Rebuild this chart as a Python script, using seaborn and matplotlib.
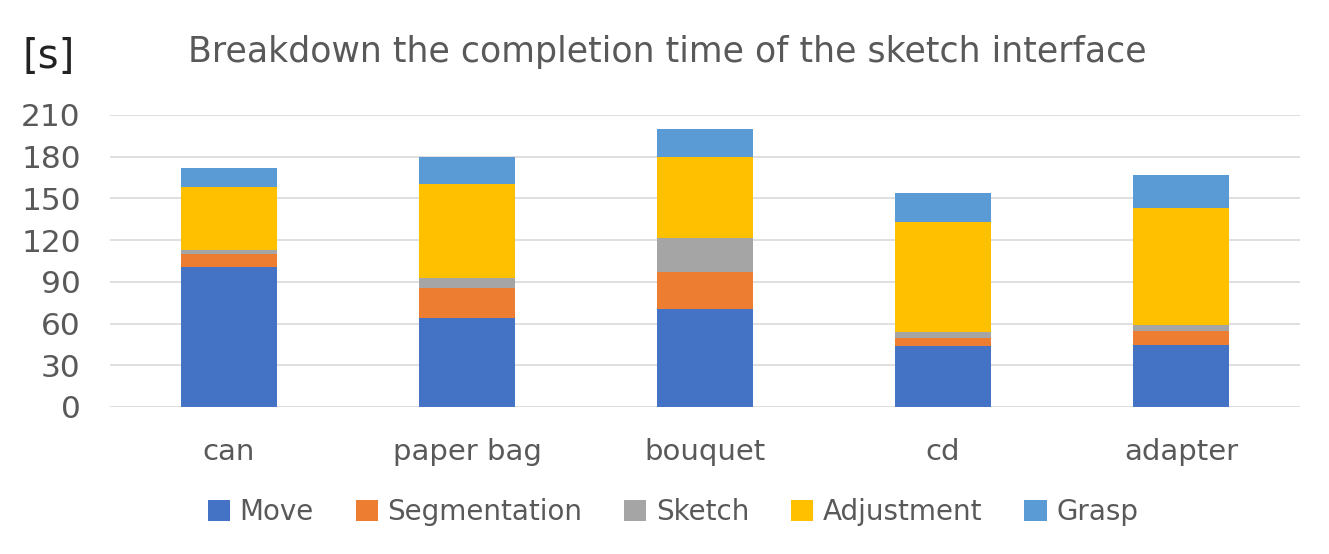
import matplotlib
matplotlib.use("Agg")
import matplotlib.pyplot as plt
import seaborn as sns
import pandas as pd
import numpy as np
from matplotlib.patches import Patch

categories = ["can", "paper bag", "bouquet", "cd", "adapter"]
series_names = ["Move", "Segmentation", "Sketch", "Adjustment", "Grasp"]
move = [101.0, 63.8, 70.8, 43.9, 44.9]
segmentation = [9.0, 22.1, 26.3, 6.0, 9.5]
sketch = [3.2, 7.1, 24.4, 3.8, 4.4]
adjustment = [45.0, 67.2, 58.1, 79.1, 84.1]
grasp = [13.7, 19.6, 20.1, 21.4, 24.2]
y_ticks = [0, 30, 60, 90, 120, 150, 180, 210]

colors = ["#4472C4", "#ED7D31", "#A5A5A5", "#FFC000", "#5B9BD5"]
text_color = "#595959"

sns.set_theme(style="white")
plt.rcParams["font.family"] = ["DejaVu Sans"]

series = [move, segmentation, sketch, adjustment, grasp]
cum = np.cumsum(np.array(series), axis=0)

fig = plt.figure(figsize=(13.29, 5.54), dpi=100)
ax = fig.add_axes([110 / 1329, 1 - 407 / 554, 1190 / 1329, 292 / 554])

# draw from top-most cumulative down so each segment shows
for i in reversed(range(len(series_names))):
    df = pd.DataFrame({"category": categories, "value": cum[i]})
    sns.barplot(data=df, x="category", y="value", color=colors[i], ax=ax,
                width=0.4, saturation=1, edgecolor="none", linewidth=0)

ax.set_ylim(0, 210)
ax.set_xlim(-0.5, 4.5)
ax.set_yticks(y_ticks)
ax.set_yticklabels([str(t) for t in y_ticks])
ax.yaxis.grid(True, color="#D9D9D9", linewidth=1.2)
ax.set_axisbelow(True)
for s in ax.spines.values():
    s.set_visible(False)
ax.tick_params(axis="y", length=0, pad=21, labelsize=22.5, labelcolor=text_color)
ax.tick_params(axis="x", length=0, pad=22, labelsize=21, labelcolor=text_color)
ax.set_xlabel("")
ax.set_ylabel("")

fig.text(22 / 1329, 1 - 57 / 554, "[s]", fontsize=29, color="#222222", va="center", ha="left")
fig.text(667 / 1329, 1 - 52 / 554, "Breakdown the completion time of the sketch interface",
         fontsize=25, color=text_color, va="center", ha="center")

handles = [Patch(facecolor=c, edgecolor="none") for c in colors]
fig.legend(handles, series_names, loc="center", bbox_to_anchor=(673 / 1329, 1 - 512 / 554),
           ncol=5, frameon=False, fontsize=20, labelcolor=text_color,
           handlelength=0.8, handleheight=0.8, handletextpad=0.35, columnspacing=1.5)

fig.savefig("out.png", dpi=100)
